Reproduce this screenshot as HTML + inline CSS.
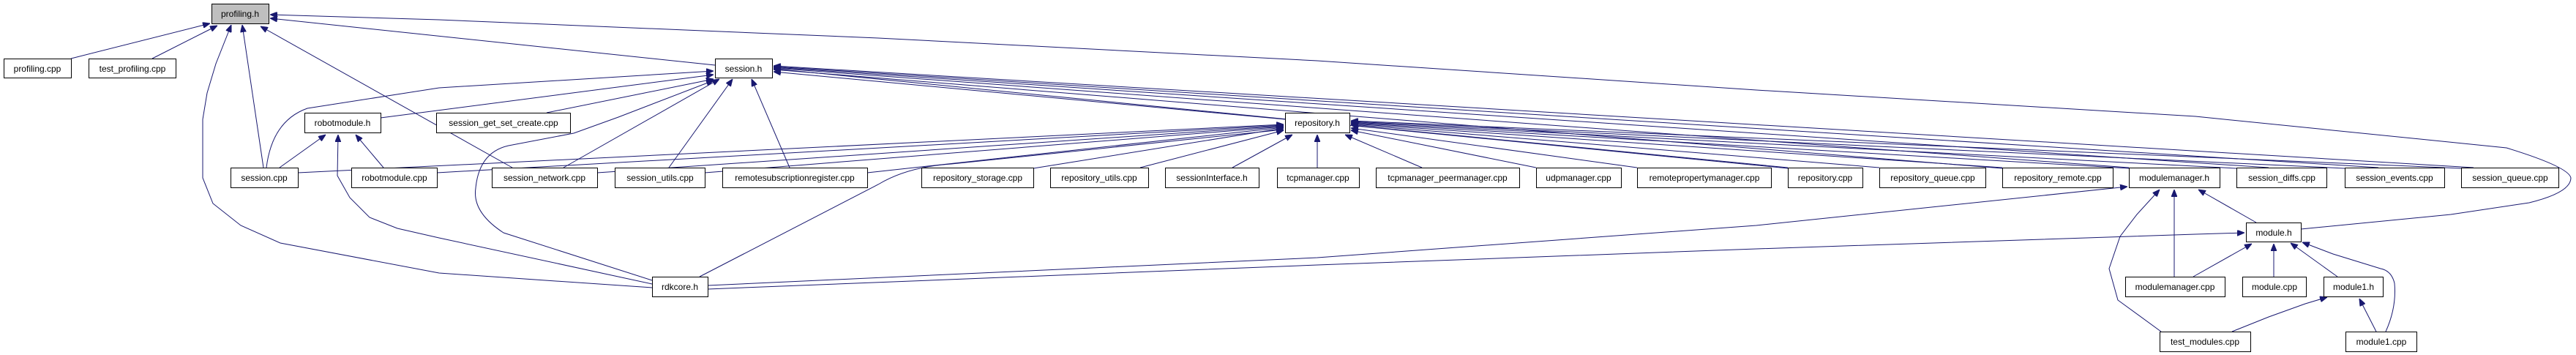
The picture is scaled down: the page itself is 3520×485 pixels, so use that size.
<!DOCTYPE html>
<html><head><meta charset="utf-8"><style>
html,body{margin:0;padding:0;background:#fff;}
svg{display:block;}
text{font-family:"Liberation Sans",Arial,sans-serif;font-size:12px;fill:#000;text-anchor:middle;}
rect{fill:#fff;stroke:#000;stroke-width:1;}
path{fill:none;stroke:#191970;stroke-width:1;}
</style></head><body>
<svg width="3520" height="485" viewBox="0 0 3520 485" xmlns="http://www.w3.org/2000/svg">
<defs>
<marker id="a" viewBox="0 0 10 8" refX="10" refY="4" markerWidth="10" markerHeight="8" markerUnits="userSpaceOnUse" orient="auto">
<path d="M0,0 L10,4 L0,8 z" style="fill:#191970;stroke:#191970"/>
</marker>
</defs>
<g marker-end="url(#a)">
<!-- profiling.h -->
<path d="M97,80 L287,32"/>
<path d="M208,80 L297,35"/>
<path d="M360,229 L331,34"/>
<path d="M891,393 L600,373 L383,332 L329,308 L291,278 L277,243 L277,163 L283,127 L295,87 L316,34"/>
<path d="M700,229 L356,36"/>
<path d="M977,89 L369,25"/>
<path d="M3144,313 L3349,293 L3456,277 Q3513,263 3513,243 Q3510,228 3425,202 L3000,159 L2400,123 L1800,83 L1200,52 L600,27 L369,20"/>
<!-- session.h -->
<path d="M364,229 Q372,165 420,148 L600,120 L975,97"/>
<path d="M747,154 L975,108"/>
<path d="M520,161 L975,102"/>
<path d="M770,229 L983,108"/>
<path d="M914,229 L1001,108"/>
<path d="M1079,229 L1027,108"/>
<path d="M891,383 L688,318 Q645,290 650,257 Q655,205 700,198 L784,182 L845,160 L975,110"/>
<path d="M1756,163 L1057,98"/>
<path d="M2909,229 L1057,93"/>
<path d="M3100,229 L1057,92"/>
<path d="M3250,229 L1057,91"/>
<path d="M3380,229 L1057,90"/>
<path d="M2443,230 L1057,94"/>
<path d="M2736,230 L1057,95"/>
<!-- repository.h -->
<path d="M407,236 L1754,170"/>
<path d="M597,236 L1754,171"/>
<path d="M816,236 L1754,172"/>
<path d="M963,236 L1754,173"/>
<path d="M1185,236 L1754,174"/>
<path d="M956,378 L1200,252 Q1240,228 1300,224 L1754,177"/>
<path d="M1412,230 L1754,175"/>
<path d="M1558,229 L1754,178"/>
<path d="M1684,229 L1766,184"/>
<path d="M1800,229 L1800,184"/>
<path d="M1943,229 L1838,184"/>
<path d="M2099,229 L1846,178"/>
<path d="M2237,229 L1846,175"/>
<path d="M2443,229 L1846,171"/>
<path d="M2568,229 L1846,170"/>
<path d="M2736,229 L1846,169"/>
<path d="M2909,230 L1846,168"/>
<path d="M3056,230 L1846,167"/>
<path d="M3204,230 L1846,166"/>
<path d="M3363,230 L1846,165"/>
<!-- robotmodule.h -->
<path d="M382,229 L445,184"/>
<path d="M524,229 L486,184"/>
<path d="M891,388 L600,325 L543,312 L505,297 L478,270 L461,240 L462,184"/>
<!-- modulemanager.h -->
<path d="M967,390 L1800,352 L2400,308 L2907,255"/>
<path d="M2953,453 L2894,410 L2882,367 L2897,323 L2920,293 L2951,259"/>
<path d="M2971,378 L2971,259"/>
<path d="M3083,304 L3004,259"/>
<!-- module.h -->
<path d="M967,395 L1800,362 L2400,340 L3000,320 L3067,318"/>
<path d="M2997,378 L3077,333"/>
<path d="M3107,378 L3107,333"/>
<path d="M3194,378 L3130,332"/>
<path d="M3260,453 Q3275,420 3272,387 Q3268,370 3253,367 L3188,347 L3146,331"/>
<!-- module1.h -->
<path d="M3050,453 L3100,433 L3150,415 L3180,406"/>
<path d="M3247,453 L3224,408"/>
</g>
<!-- nodes -->
<rect x="289.5" y="5.5" width="78" height="27" style="fill:#bfbfbf"/><text x="328" y="23">profiling.h</text>
<rect x="5.5" y="80.5" width="92" height="26"/><text x="51" y="98">profiling.cpp</text>
<rect x="121.5" y="80.5" width="119" height="26"/><text x="181" y="98">test_profiling.cpp</text>
<rect x="977.5" y="80.5" width="78" height="26"/><text x="1016" y="98">session.h</text>
<rect x="416.5" y="154.5" width="104" height="27"/><text x="468" y="172">robotmodule.h</text>
<rect x="596.5" y="154.5" width="183" height="27"/><text x="688" y="172">session_get_set_create.cpp</text>
<rect x="1756.5" y="154.5" width="88" height="27"/><text x="1800" y="172">repository.h</text>
<rect x="315.5" y="229.5" width="92" height="27"/><text x="361" y="247">session.cpp</text>
<rect x="480.5" y="229.5" width="117" height="27"/><text x="539" y="247">robotmodule.cpp</text>
<rect x="672.5" y="229.5" width="144" height="27"/><text x="744" y="247">session_network.cpp</text>
<rect x="840.5" y="229.5" width="123" height="27"/><text x="902" y="247">session_utils.cpp</text>
<rect x="987.5" y="229.5" width="198" height="27"/><text x="1086" y="247">remotesubscriptionregister.cpp</text>
<rect x="1259.5" y="229.5" width="153" height="27"/><text x="1336" y="247">repository_storage.cpp</text>
<rect x="1435.5" y="229.5" width="134" height="27"/><text x="1502" y="247">repository_utils.cpp</text>
<rect x="1592.5" y="229.5" width="128" height="27"/><text x="1656" y="247">sessionInterface.h</text>
<rect x="1745.5" y="229.5" width="112" height="27"/><text x="1801" y="247">tcpmanager.cpp</text>
<rect x="1880.5" y="229.5" width="196" height="27"/><text x="1978" y="247">tcpmanager_peermanager.cpp</text>
<rect x="2099.5" y="229.5" width="116" height="27"/><text x="2157" y="247">udpmanager.cpp</text>
<rect x="2237.5" y="229.5" width="183" height="27"/><text x="2329" y="247">remotepropertymanager.cpp</text>
<rect x="2443.5" y="229.5" width="102" height="27"/><text x="2494" y="247">repository.cpp</text>
<rect x="2568.5" y="229.5" width="145" height="27"/><text x="2641" y="247">repository_queue.cpp</text>
<rect x="2736.5" y="229.5" width="151" height="27"/><text x="2812" y="247">repository_remote.cpp</text>
<rect x="2909.5" y="229.5" width="124" height="27"/><text x="2971" y="247">modulemanager.h</text>
<rect x="3056.5" y="229.5" width="123" height="27"/><text x="3118" y="247">session_diffs.cpp</text>
<rect x="3204.5" y="229.5" width="136" height="27"/><text x="3272" y="247">session_events.cpp</text>
<rect x="3363.5" y="229.5" width="133" height="27"/><text x="3430" y="247">session_queue.cpp</text>
<rect x="3069.5" y="304.5" width="75" height="26"/><text x="3107" y="322">module.h</text>
<rect x="891.5" y="378.5" width="76" height="27"/><text x="929" y="396">rdkcore.h</text>
<rect x="2904.5" y="378.5" width="136" height="27"/><text x="2972" y="396">modulemanager.cpp</text>
<rect x="3064.5" y="378.5" width="87" height="27"/><text x="3108" y="396">module.cpp</text>
<rect x="3175.5" y="378.5" width="81" height="27"/><text x="3216" y="396">module1.h</text>
<rect x="2951.5" y="453.5" width="124" height="27"/><text x="3013" y="471">test_modules.cpp</text>
<rect x="3205.5" y="453.5" width="97" height="27"/><text x="3254" y="471">module1.cpp</text>
</svg>
</body></html>
